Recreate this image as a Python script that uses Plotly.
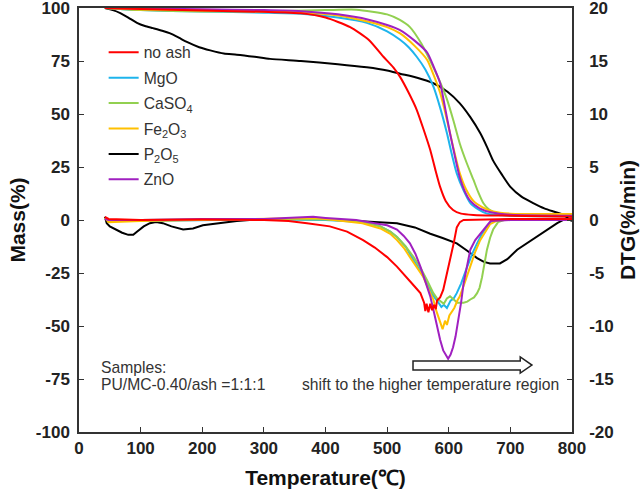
import plotly.graph_objects as go

# ---------------- data ----------------
series_names = ["no ash", "MgO", "CaSO<sub>4</sub>", "Fe<sub>2</sub>O<sub>3</sub>", "P<sub>2</sub>O<sub>5</sub>", "ZnO"]
series_colors = ["#FF0000", "#1EB4EC", "#92D050", "#FFC000", "#000000", "#A020C0"]

# TG curves (Mass %)
tg_noash_T = [42, 100, 200, 300, 360, 400, 440, 470, 494, 510, 521, 535, 548, 560, 570, 578, 586, 595, 607, 620, 640, 700, 800]
tg_noash_M = [100, 99.5, 98.8, 98.2, 97.5, 95.5, 91, 85, 77, 72, 67.5, 60, 52, 42, 33, 24, 15.6, 9, 4.7, 3, 2.4, 2, 1.5]

tg_mgo_T = [42, 100, 200, 300, 360, 420, 467, 500, 521, 535, 548, 562, 575, 586, 597, 605, 613, 624, 635, 648, 662, 700, 800]
tg_mgo_M = [100, 99, 98.3, 97.8, 97.3, 95.5, 93, 89, 85, 81.5, 77, 71, 63, 53, 41, 31, 22, 14, 8, 5, 3, 2, 1.8]

tg_caso4_T = [42, 100, 200, 300, 400, 450, 500, 520, 537, 556, 575, 586, 597, 608, 618, 629, 640, 648, 656, 665, 680, 720, 800]
tg_caso4_M = [100, 99, 98.3, 98.5, 99, 99.2, 97, 94.5, 91, 83, 72, 65, 57, 46.5, 36, 27, 19, 13, 8, 5, 3, 2.5, 2]

tg_fe2o3_T = [42, 100, 200, 300, 360, 420, 470, 500, 521, 545, 565, 576, 586, 594, 602, 610, 618, 628, 640, 655, 672, 700, 800]
tg_fe2o3_M = [100, 99.3, 98.8, 98.3, 98, 96.5, 93.5, 91, 88, 82, 75.5, 68, 60, 51, 41, 31, 22, 14.5, 9, 6, 4, 3, 2.8]

tg_p2o5_T = [42, 55, 67, 80, 94, 107, 120, 135, 148, 162, 175, 195, 213, 235, 256, 285, 310, 360, 420, 467, 500, 521, 550, 575,
             598, 618, 635, 651, 662, 672, 686, 700, 718, 737, 755, 770, 792, 800]
tg_p2o5_M = [100, 99, 97.6, 95.5, 93, 91.5, 90.5, 89.3, 88, 86, 84, 81.5, 80, 78.5, 78, 77, 76, 75, 73.5, 72, 70.5, 69, 67, 64.5,
             60.5, 55, 48.5, 41, 34.5, 28, 21.5, 15.6, 11, 8, 5.5, 4, 2, 1.5]

tg_zno_T = [42, 100, 200, 300, 360, 420, 470, 500, 521, 545, 565, 576, 586, 594, 602, 610, 618, 626, 635, 650, 670, 700, 800]
tg_zno_M = [100, 99.8, 99.4, 99, 98.5, 97, 94.5, 92, 89.6, 84.5, 79, 72, 64.6, 53, 41, 30, 20, 13.5, 9, 5.5, 3.5, 2.5, 2]

# DTG curves (%/min)
dtg_noash_T = [42, 48, 100, 200, 300, 340, 370, 407, 435, 461, 480, 500, 516, 532, 545, 554, 560, 562, 564, 567, 570, 573, 576,
               579, 581, 586, 591, 596, 602, 608, 613, 618, 624, 700, 800]
dtg_noash_V = [0.3, 0.1, 0, 0.05, 0, -0.1, -0.3, -0.6, -1.1, -1.9, -2.6, -3.5, -4.4, -5.4, -6.3, -6.9, -7.8, -8.6, -7.9, -8.7,
               -7.9, -8.5, -8.0, -8.4, -7.6, -7.3, -6.6, -5.3, -3.8, -2.2, -0.7, -0.2, 0, 0.1, 0.1]

dtg_mgo_T = [42, 48, 100, 200, 300, 400, 460, 489, 505, 516, 530, 543, 555, 565, 573, 581, 588, 592, 597, 603, 608, 613, 620,
             630, 638, 646, 654, 662, 670, 700, 800]
dtg_mgo_V = [0.2, 0, -0.1, 0, 0.05, 0, -0.2, -0.6, -1.1, -1.6, -2.5, -3.8, -4.9, -6, -7, -7.6, -8.2, -8.0, -8.3, -7.6, -7.4,
             -6.9, -6.0, -4.4, -3.2, -2.2, -1.3, -0.6, -0.1, 0.1, 0]

dtg_caso4_T = [42, 48, 100, 200, 300, 400, 460, 489, 505, 516, 530, 543, 555, 565, 575, 581, 586, 592, 597, 602, 608, 614, 624,
               630, 635, 641, 646, 650, 654, 658, 662, 667, 672, 680, 690, 800]
dtg_caso4_V = [0.2, 0, 0, 0.05, 0.1, 0.05, -0.2, -0.6, -1.1, -1.6, -2.5, -3.5, -4.6, -5.7, -6.9, -7.4, -7.6, -7.9, -7.4, -7.2,
               -7.5, -7.8, -7.8, -7.7, -7.5, -7.3, -6.9, -6.4, -5.4, -4.1, -2.8, -1.7, -0.9, -0.2, 0, 0]

dtg_fe2o3_T = [42, 48, 100, 200, 300, 380, 400, 460, 489, 505, 516, 528, 537, 548, 559, 567, 575, 580, 586, 590, 594, 597, 601,
               605, 609, 614, 618, 626, 635, 643, 651, 660, 667, 680, 800]
dtg_fe2o3_V = [0.2, -0.2, -0.1, 0, 0.05, 0.2, 0.1, -0.3, -0.8, -1.3, -1.9, -2.7, -3.5, -4.4, -5.4, -6.5, -7.5, -8.6, -9.6,
               -10.3, -9.5, -9.9, -9.0, -8.7, -8.3, -7.6, -7.2, -5.9, -4.4, -3.0, -1.9, -1.0, -0.4, 0, 0.1]

dtg_p2o5_T = [42, 45, 50, 60, 70, 80, 88, 94, 105, 115, 125, 136, 150, 169, 185, 201, 230, 256, 300, 350, 400, 450, 516, 545,
              570, 590, 613, 630, 646, 657, 667, 683, 695, 711, 727, 743, 760, 776, 792, 800]
dtg_p2o5_V = [0.3, -0.3, -0.6, -0.9, -1.2, -1.4, -1.4, -1.1, -0.6, -0.3, -0.2, -0.3, -0.6, -0.9, -0.8, -0.5, -0.3, -0.1, 0.1,
              0.1, 0.1, -0.1, -0.3, -0.7, -1.3, -1.7, -2.2, -2.9, -3.6, -3.95, -4.1, -4.1, -3.7, -2.8, -2.2, -1.6, -0.9,
              -0.3, 0.2, -0.1]

dtg_zno_T = [42, 48, 100, 200, 300, 350, 380, 400, 450, 480, 500, 516, 527, 537, 546, 554, 562, 570, 576, 581, 586, 591, 596,
             599, 603, 607, 611, 615, 620, 624, 630, 635, 643, 651, 660, 668, 700, 800]
dtg_zno_V = [0.1, 0, 0, 0.1, 0.1, 0.2, 0.3, 0.2, 0, -0.3, -0.5, -0.9, -1.5, -2.2, -3.2, -4.4, -5.7, -7.2, -8.7, -10.1, -11.3,
             -12.3, -12.9, -13.1, -12.7, -12.0, -11.0, -9.7, -7.8, -6.0, -4.1, -2.8, -1.9, -1.3, -0.6, -0.1, 0, 0]

x_ticks = [0, 100, 200, 300, 400, 500, 600, 700, 800]
y1_ticks = [-100, -75, -50, -25, 0, 25, 50, 75, 100]
y2_ticks = [-20, -15, -10, -5, 0, 5, 10, 15, 20]

tg_data = [(tg_noash_T, tg_noash_M), (tg_mgo_T, tg_mgo_M), (tg_caso4_T, tg_caso4_M),
           (tg_fe2o3_T, tg_fe2o3_M), (tg_p2o5_T, tg_p2o5_M), (tg_zno_T, tg_zno_M)]
dtg_data = [(dtg_noash_T, dtg_noash_V), (dtg_mgo_T, dtg_mgo_V), (dtg_caso4_T, dtg_caso4_V),
            (dtg_fe2o3_T, dtg_fe2o3_V), (dtg_p2o5_T, dtg_p2o5_V), (dtg_zno_T, dtg_zno_V)]

# ---------------- figure ----------------
fig = go.Figure()
draw_order = [4, 1, 2, 3, 5, 0]  # drawing order (red on top)
for i in draw_order:
    t, v = dtg_data[i]
    fig.add_trace(go.Scatter(x=t, y=v, mode="lines", yaxis="y2", name=series_names[i],
                             legendgroup=str(i), showlegend=False,
                             line=dict(color=series_colors[i], width=2)))
for i in draw_order:
    t, m = tg_data[i]
    fig.add_trace(go.Scatter(x=t, y=m, mode="lines", name=series_names[i],
                             legendgroup=str(i), showlegend=True, legendrank=i + 1,
                             line=dict(color=series_colors[i], width=2, shape="spline", smoothing=0.6)))

font_family = "Liberation Sans, Arial, sans-serif"
tick_font = dict(size=17, family=font_family, color="#222222", weight="bold")
title_font = dict(size=21, family=font_family, color="#111111", weight="bold")
note_font = dict(size=15.7, color="#333333", family=font_family)

fig.update_layout(
    width=644, height=489,
    margin=dict(l=79, r=72, t=8, b=57),
    paper_bgcolor="white", plot_bgcolor="white",
    font=dict(family=font_family, color="#222222"),
    showlegend=True,
    legend=dict(x=0.05, y=0.935, xanchor="left", yanchor="top", bgcolor="rgba(0,0,0,0)",
                font=dict(size=15.7, color="#333333"), traceorder="grouped", tracegroupgap=2,
                itemwidth=30),
    xaxis=dict(range=[0, 800], tickvals=x_ticks, ticktext=[str(v) for v in x_ticks],
               ticks="inside", ticklen=5, tickwidth=1.2, ticklabeloverflow="allow",
               tickcolor="#333333", showline=True, linecolor="#333333", linewidth=1.5, mirror=True,
               showgrid=False, zeroline=False, automargin=False, tickfont=tick_font,
               title=dict(text="Temperature(℃)", font=title_font, standoff=14)),
    yaxis=dict(range=[-100, 100], tickvals=y1_ticks, ticktext=[str(v) for v in y1_ticks],
               ticks="inside", ticklen=5, tickwidth=1.2, ticklabeloverflow="allow",
               tickcolor="#333333", showline=True, linecolor="#333333", linewidth=1.5, mirror=False,
               showgrid=False, zeroline=False, automargin=False, tickfont=tick_font, ticklabelstandoff=4,
               title=dict(text="Mass(%)", font=title_font, standoff=4)),
    yaxis2=dict(range=[-20, 20], tickvals=y2_ticks, ticktext=[str(v) for v in y2_ticks],
                overlaying="y", side="right", ticks="inside", ticklen=5, ticklabeloverflow="allow",
                tickwidth=1.2, tickcolor="#333333", showline=True, linecolor="#333333", linewidth=1.5,
                showgrid=False, zeroline=False, automargin=False, tickfont=tick_font, ticklabelstandoff=12,
                title=dict(text="DTG(%/min)", font=title_font, standoff=8)),
)

# text annotations
fig.add_annotation(x=32.5, y=-69.8, xref="x", yref="y", text="Samples:",
                   showarrow=False, xanchor="left", yanchor="middle", font=note_font)
fig.add_annotation(x=32.5, y=-77.8, xref="x", yref="y", text="PU/MC-0.40/ash =1:1:1",
                   showarrow=False, xanchor="left", yanchor="middle", font=note_font)
fig.add_annotation(x=358, y=-77.8, xref="x", yref="y", text="shift to the higher temperature region",
                   showarrow=False, xanchor="left", yanchor="middle", font=note_font)

# hollow block arrow
arrow_path = "M 542 -66.5 L 716 -66.5 L 716 -64.6 L 735 -68.4 L 716 -72.2 L 716 -70.8 L 542 -70.8 Z"
fig.add_shape(type="path", path=arrow_path, xref="x", yref="y",
              line=dict(color="#222222", width=1.5), fillcolor="white")

fig.write_html("out.html", config={"displayModeBar": False},
               post_script="document.body.style.margin='0px';")
